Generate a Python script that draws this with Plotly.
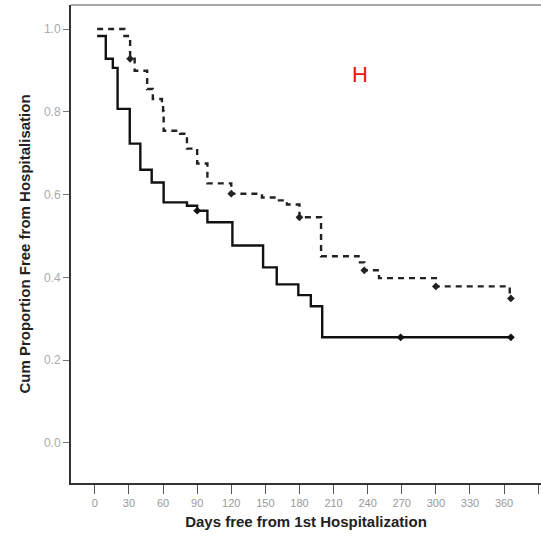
import plotly.graph_objects as go

# Solid group (step function)
solid_t = [2, 9.6, 15.8, 20, 30.7, 40, 50, 60.5, 81, 90, 99, 121, 148, 160, 179, 190, 200, 366]
solid_s = [0.983, 0.928, 0.906, 0.807, 0.723, 0.660, 0.629, 0.581, 0.573, 0.561, 0.533,
           0.477, 0.424, 0.383, 0.357, 0.330, 0.255, 0.255]
solid_cens_t = [90, 269, 366]
solid_cens_s = [0.561, 0.255, 0.255]

# Dashed group (step function)
dash_t = [2, 26, 31, 35, 46, 51, 59, 60, 60.5, 75, 81, 90, 99, 120, 147, 158, 169, 180,
          199, 232, 237, 250, 300, 365]
dash_s = [1.0, 0.983, 0.928, 0.899, 0.855, 0.831, 0.819, 0.802, 0.754, 0.747, 0.711, 0.675,
          0.627, 0.602, 0.593, 0.586, 0.576, 0.545, 0.451, 0.436, 0.417, 0.398, 0.378, 0.349]
dash_cens_t = [31, 120, 180, 237, 300, 366]
dash_cens_s = [0.928, 0.602, 0.545, 0.417, 0.378, 0.349]

x_ticks = [0, 30, 60, 90, 120, 150, 180, 210, 240, 270, 300, 330, 360, 390]
y_ticks = [0.0, 0.2, 0.4, 0.6, 0.8, 1.0]
y_tick_labels = ["0.0", "0.2", "0.4", "0.6", "0.8", "1.0"]

fig = go.Figure()
fig.add_trace(go.Scatter(x=dash_t, y=dash_s, mode="lines", line_shape="hv",
                         line=dict(color="#222", width=2.4, dash="6px,5px"), showlegend=False))
fig.add_trace(go.Scatter(x=solid_t, y=solid_s, mode="lines", line_shape="hv",
                         line=dict(color="#111", width=2.4), showlegend=False))
fig.add_trace(go.Scatter(x=dash_cens_t, y=dash_cens_s, mode="markers",
                         marker=dict(symbol="diamond", size=6, color="#222"), showlegend=False))
fig.add_trace(go.Scatter(x=solid_cens_t, y=solid_cens_s, mode="markers",
                         marker=dict(symbol="diamond", size=6, color="#111"), showlegend=False))

fig.add_annotation(x=410, y=0.315, xref="x", yref="y", text="<b>p = 0.004</b>", showarrow=False,
                   font=dict(family="Liberation Sans", size=12, color="#333"))
fig.add_annotation(x=(360 - 95) / 1.136, y=(443 - 75) / 414, xref="x", yref="y", text="H",
                   showarrow=False, font=dict(family="Liberation Sans", size=22, color="#e8150c"))

fig.add_shape(type="line", xref="paper", yref="paper", x0=0, x1=1, y0=1, y1=1,
              line=dict(color="#888", width=1.5))

fig.update_layout(
    width=541, height=539,
    margin=dict(l=71, r=0, t=5, b=56),
    paper_bgcolor="white", plot_bgcolor="white",
    font=dict(family="Liberation Sans", color="#222"),
    xaxis=dict(range=[-21, 392.5], tickvals=x_ticks, ticks="outside", ticklen=9,
               tickcolor="#555", tickwidth=1.2, showgrid=False, zeroline=False,
               showline=True, linecolor="#333", linewidth=2,
               tickfont=dict(size=11, color="#999"),
               title=dict(text="<b>Days free from 1st Hospitalization</b>",
                          font=dict(size=15, color="#222"), standoff=8)),
    yaxis=dict(range=[-0.097, 1.058], tickvals=y_ticks, ticktext=y_tick_labels,
               ticks="outside", ticklen=6, tickcolor="#777", tickwidth=1.2,
               showgrid=False, zeroline=False, showline=True, linecolor="#333", linewidth=2,
               tickfont=dict(size=12, color="#aaa"),
               title=dict(text="<b>Cum Proportion Free from Hospitalisation</b>",
                          font=dict(size=15, color="#222"), standoff=10)),
)

fig.write_html("out.html")
